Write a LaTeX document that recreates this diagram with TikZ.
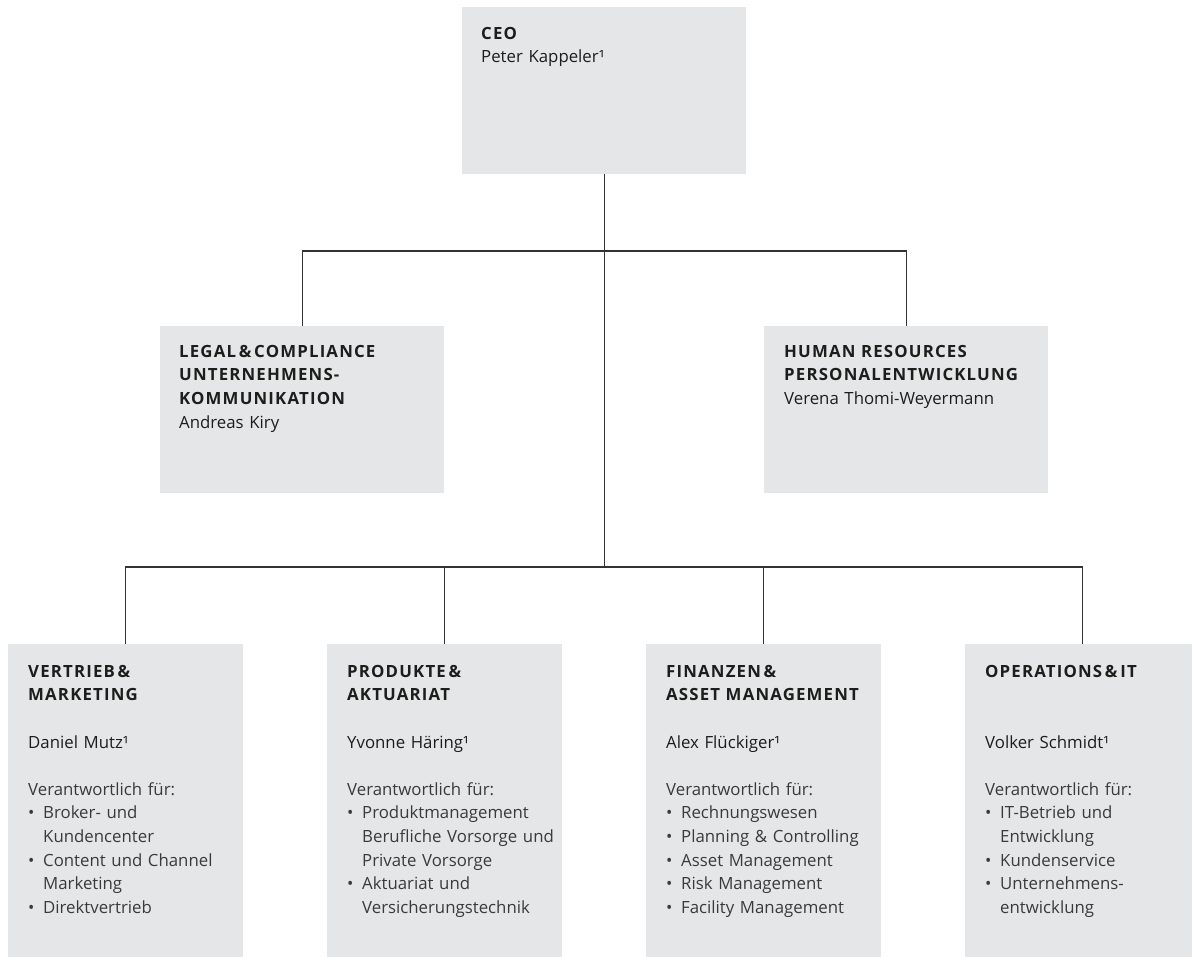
\documentclass[tikz,border=0pt]{standalone}
\usepackage{fontspec}
\setmainfont{Open Sans}[BoldFeatures={LetterSpace=7}]
\usepackage{xcolor}
\usetikzlibrary{positioning}

\definecolor{boxgray}{HTML}{E5E6E8}
\definecolor{inktext}{HTML}{1D1D1B}
\definecolor{softtext}{HTML}{3A3A3A}
\definecolor{linegray}{HTML}{333333}

\newcommand{\bul}[1]{\par\hangindent=15pt\hangafter=1\noindent\makebox[15pt][l]{\textbullet}{\let\\\newline#1}}

\begin{document}
\begin{tikzpicture}[
    x=1pt, y=1pt,
    box/.style={rectangle, fill=boxgray, anchor=north west, inner sep=0pt},
    bigbox/.style={box, minimum width=284pt, minimum height=167pt},
    unitbox/.style={box, minimum width=235pt, minimum height=313pt},
    txt/.style={anchor=north west, inner sep=0pt, align=left, text width=225pt, text=inktext, font=\fontsize{16.8}{23.6}\selectfont},
    link/.style={draw=linegray, line width=1.1pt}
]
\useasboundingbox (0,0) rectangle (1192,-957);

% =====================
% Top: CEO and staff units
% =====================
\node[bigbox] (ceo) at (462,-7) {};
\node[bigbox] (legal) at (160,-326) {};
\node[bigbox] (hr) at (764,-326) {};

\node[txt, below right=20pt and 19pt of ceo.north west] (ceotxt) {{\bfseries CEO}\\Peter Kappeler¹};
\node[txt, below right=19pt and 19pt of legal.north west] (legaltxt) {{\bfseries LEGAL\,\&\,COMPLIANCE\\UNTERNEHMENS-\\KOMMUNIKATION}\\Andreas Kiry};
\node[txt, below right=19pt and 20pt of hr.north west] (hrtxt) {{\bfseries HUMAN RESOURCES\\PERSONALENTWICKLUNG}\\Verena Thomi-Weyermann};

% =====================
% Bottom: business units
% =====================
\node[unitbox] (vm) at (8,-644) {};
\node[unitbox] (pa) at (327,-644) {};
\node[unitbox] (fa) at (646,-644) {};
\node[unitbox] (opit) at (965,-644) {};

\node[txt, below right=21pt and 20pt of vm.north west] (vmtxt) {{\bfseries VERTRIEB\,\&\\MARKETING}\\[\baselineskip]
Daniel Mutz¹\\[\baselineskip]
{\color{softtext}Verantwortlich für:
\bul{Broker- und\\Kundencenter}
\bul{Content und Channel\\Marketing}
\bul{Direktvertrieb}\par}};

\node[txt, below right=21pt and 20pt of pa.north west] (patxt) {{\bfseries PRODUKTE\,\&\\AKTUARIAT}\\[\baselineskip]
Yvonne Häring¹\\[\baselineskip]
{\color{softtext}Verantwortlich für:
\bul{Produktmanagement\\Berufliche Vorsorge und\\Private Vorsorge}
\bul{Aktuariat und\\Versicherungstechnik}\par}};

\node[txt, below right=21pt and 20pt of fa.north west] (fatxt) {{\bfseries FINANZEN\,\&\\ASSET MANAGEMENT}\\[\baselineskip]
Alex Flückiger¹\\[\baselineskip]
{\color{softtext}Verantwortlich für:
\bul{Rechnungswesen}
\bul{Planning \& Controlling}
\bul{Asset Management}
\bul{Risk Management}
\bul{Facility Management}\par}};

\node[txt, below right=21pt and 20pt of opit.north west] (opittxt) {{\bfseries OPERATIONS\,\&\,IT}\\[2\baselineskip]
Volker Schmidt¹\\[\baselineskip]
{\color{softtext}Verantwortlich für:
\bul{IT-Betrieb und\\Entwicklung}
\bul{Kundenservice}
\bul{Unternehmens-\\entwicklung}\par}};

% =====================
% Connectors
% =====================
\coordinate (topbus) at (ceo.south |- 0,-251);
\coordinate (lowbus) at (ceo.south |- 0,-567);

\draw[link] (ceo.south) -- (lowbus);
\draw[link] (legal.north) |- (topbus) -| (hr.north);
\draw[link] (vm.north) |- (lowbus) -| (opit.north);
\draw[link] (pa.north) -- (pa.north |- lowbus);
\draw[link] (fa.north) -- (fa.north |- lowbus);

\end{tikzpicture}
\end{document}
